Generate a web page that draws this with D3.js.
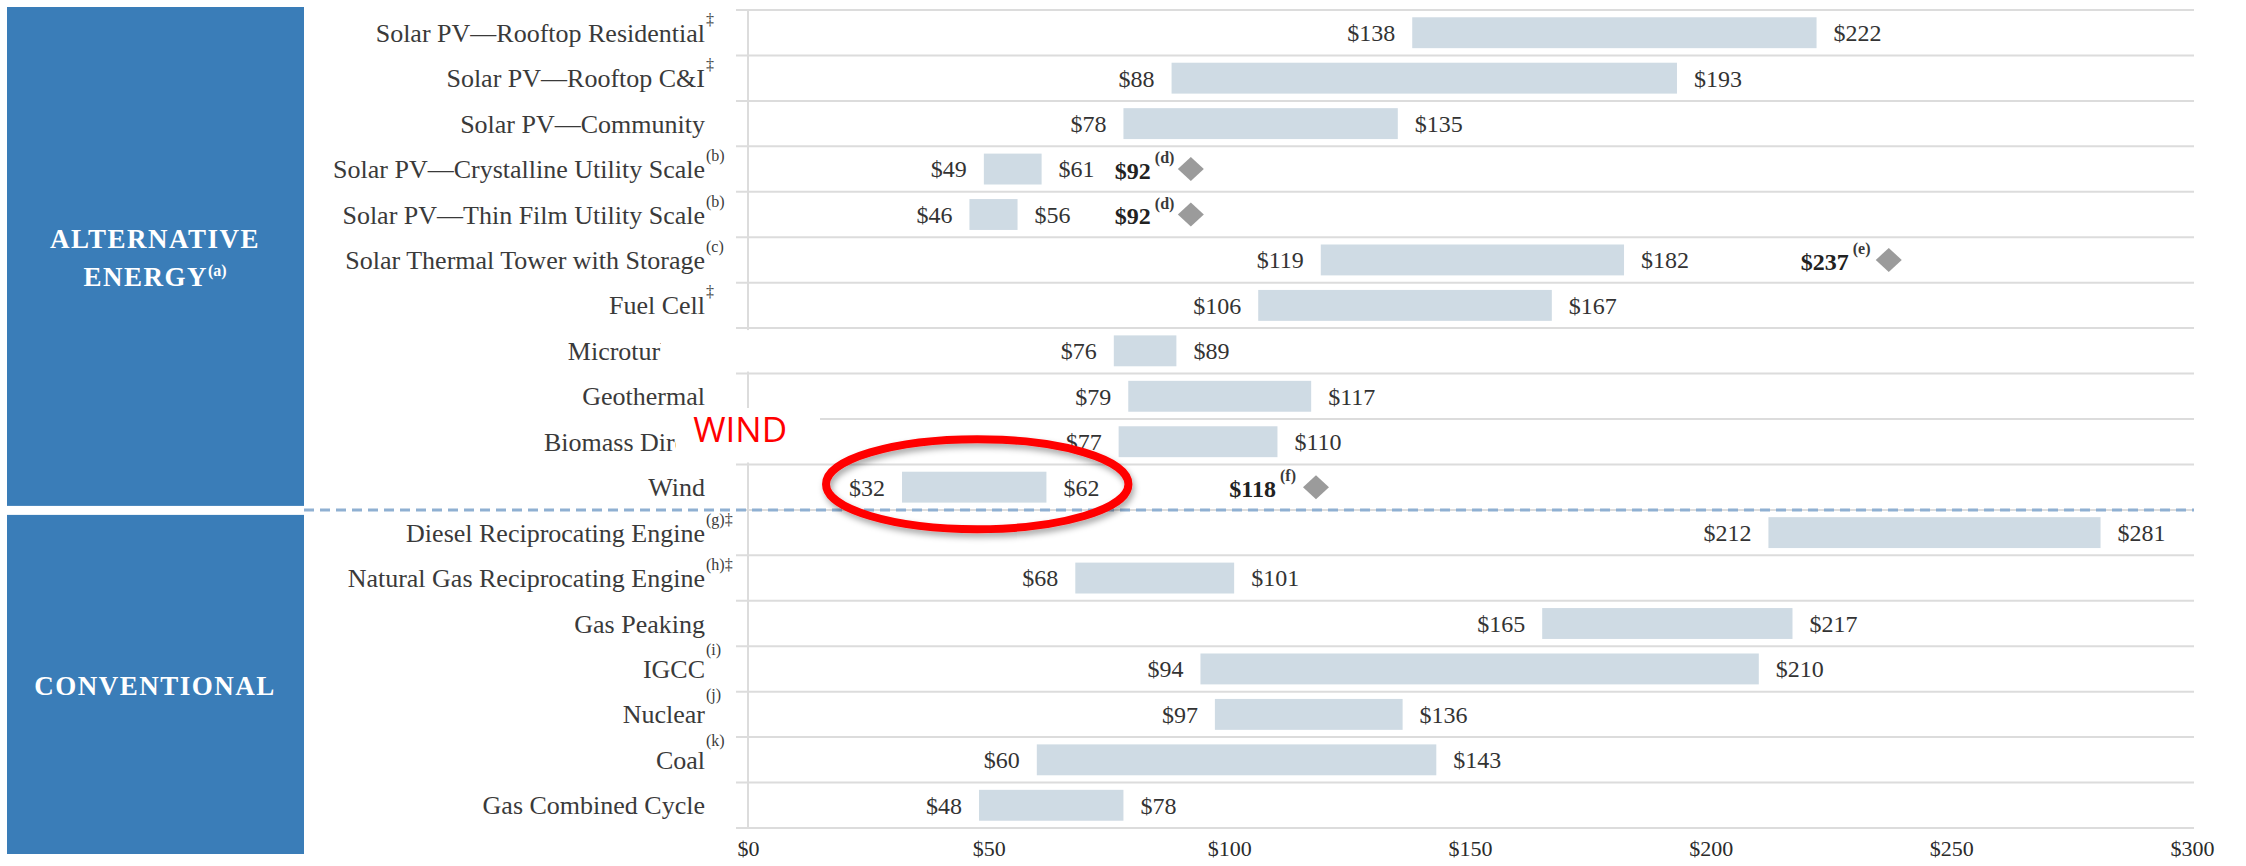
<!DOCTYPE html>
<html lang="en">
  <head>
    <meta charset="utf-8">
    <title>Levelized Cost of Energy Comparison</title>
    <style>
      body { margin: 0; background: #fff; }
      .bar { fill: #cfdbe4; }
      .grid { stroke: #dcdcdc; stroke-width: 2; }
      .cat { font-family: "Liberation Serif", serif; font-size: 26px; fill: #3a3a3a; }
      .sup { font-family: "Liberation Serif", serif; font-size: 16px; fill: #3a3a3a; }
      .val { font-family: "Liberation Serif", serif; font-size: 24px; fill: #333; }
      .panel-text { font-family: "Liberation Serif", serif; font-size: 27px; font-weight: bold; fill: #fff; letter-spacing: 1.5px; }
    </style>
    <script src="https://cdn.jsdelivr.net/npm/d3@7"></script>
  </head>
  <body>
  <svg width="2246" height="866"></svg>
  <script>
// data ($/MWh)
var categories = [
  "Solar PV\u2014Rooftop Residential", "Solar PV\u2014Rooftop C&I", "Solar PV\u2014Community",
  "Solar PV\u2014Crystalline Utility Scale", "Solar PV\u2014Thin Film Utility Scale",
  "Solar Thermal Tower with Storage", "Fuel Cell", "Microturbine", "Geothermal",
  "Biomass Direct", "Wind",
  "Diesel Reciprocating Engine", "Natural Gas Reciprocating Engine", "Gas Peaking",
  "IGCC", "Nuclear", "Coal", "Gas Combined Cycle"
];
var labelNotes = ["\u2021", "\u2021", "", "(b)", "(b)", "(c)", "\u2021", "", "", "", "",
  "(g)\u2021", "(h)\u2021", "", "(i)", "(j)", "(k)", ""];
var lowValues  = [138, 88, 78, 49, 46, 119, 106, 76, 79, 77, 32, 212, 68, 165, 94, 97, 60, 48];
var highValues = [222, 193, 135, 61, 56, 182, 167, 89, 117, 110, 62, 281, 101, 217, 210, 136, 143, 78];

var markerCategories = ["Solar PV\u2014Crystalline Utility Scale", "Solar PV\u2014Thin Film Utility Scale",
  "Solar Thermal Tower with Storage", "Wind"];
var markerValues = [92, 92, 237, 118];
var markerNotes = ["(d)", "(d)", "(e)", "(f)"];

var xTicks = [0, 50, 100, 150, 200, 250, 300];

var groupNames = ["ALTERNATIVE", "CONVENTIONAL"];

var svg = d3.select("svg"),
    W = +svg.attr("width"),
    H = +svg.attr("height");

var plotTop = 10, plotBottom = 828, plotLeft = 748, plotRight = 2192;
var labelX = 705;

var x = d3.scaleLinear().domain([0, 300]).range([plotLeft, plotRight]);
var y = d3.scaleBand().domain(categories).range([plotTop, plotBottom]).padding(0);
var step = y.step();
var barH = step * 0.68;
var mid = function(c) { return y(c) + step / 2; };

var defs = svg.append("defs");
var f = defs.append("filter").attr("id", "shadow").attr("x", "-10%").attr("y", "-20%")
    .attr("width", "130%").attr("height", "160%");
f.append("feDropShadow").attr("dx", 2).attr("dy", 4).attr("stdDeviation", 3)
    .attr("flood-color", "#000").attr("flood-opacity", 0.35);

//gridlines between rows
var bounds = categories.map(function(c) { return y(c); }).concat([plotBottom]);
svg.append("g").selectAll("line").data(bounds).enter().append("line")
    .attr("class", "grid")
    .attr("x1", plotLeft - 12).attr("x2", plotRight + 2)
    .attr("y1", function(d) { return d; }).attr("y2", function(d) { return d; });

svg.append("line").attr("class", "grid")
    .attr("x1", plotLeft).attr("x2", plotLeft).attr("y1", plotTop).attr("y2", plotBottom);

//side panels
var divY = y("Diesel Reciprocating Engine");
var panels = [
  {y0: plotTop - 3, y1: divY - 4},
  {y0: divY + 5, y1: H - 12}
];
svg.append("g").selectAll("rect").data(panels).enter().append("rect")
    .attr("x", 7).attr("width", 297)
    .attr("y", function(d) { return d.y0; })
    .attr("height", function(d) { return d.y1 - d.y0; })
    .attr("fill", "#3a7db8");

var p0 = (panels[0].y0 + panels[0].y1) / 2;
svg.append("text").attr("class", "panel-text").attr("x", 155).attr("y", p0 - 8)
    .attr("text-anchor", "middle").text(groupNames[0]);
var en = svg.append("text").attr("class", "panel-text").attr("x", 155).attr("y", p0 + 30)
    .attr("text-anchor", "middle");
en.append("tspan").text("ENERGY");
en.append("tspan").attr("dy", -10).style("font-size", "16px").style("letter-spacing", "0px").text("(a)");

var p1 = (panels[1].y0 + panels[1].y1) / 2;
svg.append("text").attr("class", "panel-text").attr("x", 155).attr("y", p1 + 4)
    .attr("text-anchor", "middle").attr("dominant-baseline", "middle").text(groupNames[1]);

//dashed divider
svg.append("line")
    .attr("x1", 304).attr("x2", plotRight + 2).attr("y1", divY).attr("y2", divY)
    .attr("stroke", "#8fb0d2").attr("stroke-width", 3).attr("stroke-dasharray", "10,6");

//category labels
var cats = svg.append("g");
cats.selectAll("text.cat").data(categories).enter().append("text")
    .attr("class", "cat")
    .attr("x", labelX).attr("y", function(d) { return mid(d); })
    .attr("dy", "0.35em").attr("text-anchor", "end")
    .text(function(d) { return d; });
cats.selectAll("text.sup").data(categories).enter().append("text")
    .attr("class", "sup")
    .attr("x", labelX + 1)
    .attr("y", function(d, i) { return mid(d) - (/\([ijk]\)/.test(labelNotes[i]) ? 14 : 8); })
    .text(function(d, i) { return labelNotes[i]; });

//bars
var rows = categories.map(function(c, i) { return {c: c, lo: lowValues[i], hi: highValues[i]}; });
svg.append("g").selectAll("rect").data(rows).enter().append("rect")
    .attr("class", "bar")
    .attr("x", function(d) { return x(d.lo); })
    .attr("width", function(d) { return x(d.hi) - x(d.lo); })
    .attr("y", function(d) { return mid(d.c) - barH / 2; })
    .attr("height", barH);

var vals = svg.append("g");
vals.selectAll("text.lo").data(rows).enter().append("text")
    .attr("class", "val").attr("text-anchor", "end")
    .attr("x", function(d) { return x(d.lo) - 17; })
    .attr("y", function(d) { return mid(d.c); }).attr("dy", "0.35em")
    .text(function(d) { return "$" + d.lo; });
vals.selectAll("text.hi").data(rows).enter().append("text")
    .attr("class", "val")
    .attr("x", function(d) { return x(d.hi) + 17; })
    .attr("y", function(d) { return mid(d.c); }).attr("dy", "0.35em")
    .text(function(d) { return "$" + d.hi; });

//diamond markers
var marks = markerCategories.map(function(c, i) { return {c: c, v: markerValues[i], n: markerNotes[i]}; });
var mg = svg.append("g");
mg.selectAll("path").data(marks).enter().append("path")
    .attr("d", "M0,-12L13,0L0,12L-13,0Z")
    .attr("fill", "#9b9b9b")
    .attr("transform", function(d) { return "translate(" + x(d.v) + "," + mid(d.c) + ")"; });
mg.selectAll("text.mv").data(marks).enter().append("text")
    .attr("class", "val").attr("text-anchor", "end")
    .style("font-weight", "bold").style("fill", "#222")
    .attr("x", function(d) { return x(d.v) - 40; })
    .attr("y", function(d) { return mid(d.c); }).attr("dy", "0.4em")
    .text(function(d) { return "$" + d.v; });
mg.selectAll("text.mn").data(marks).enter().append("text")
    .attr("class", "sup").style("font-weight", "bold")
    .attr("x", function(d) { return x(d.v) - 36; })
    .attr("y", function(d) { return mid(d.c) - 6; })
    .text(function(d) { return d.n; });

//x axis
var xAxis = svg.append("g")
    .attr("transform", "translate(0," + plotBottom + ")")
    .call(d3.axisBottom(x).tickValues(xTicks).tickSize(0).tickPadding(12)
      .tickFormat(function(d) { return "$" + d; }));
xAxis.select(".domain").remove();
xAxis.selectAll("text")
    .style("font-family", "Liberation Serif, serif").style("font-size", "22px").style("fill", "#2b2b2b");

//pasted annotation covers part of two labels
var micro = "Microturbine", bio = "Biomass Direct";
svg.append("rect").attr("fill", "#fff")
    .attr("x", 661).attr("y", y(micro) + 2).attr("width", 142).attr("height", step - 4);
svg.append("rect").attr("fill", "#fff")
    .attr("x", 676).attr("y", y(bio) - 11).attr("width", 144).attr("height", step + 9);

//WIND annotation
var wi = categories.indexOf("Wind");
var wcx = x((lowValues[wi] + highValues[wi]) / 2) + 3,
    wcy = mid("Wind") - 3;
svg.append("ellipse")
    .attr("cx", wcx).attr("cy", wcy)
    .attr("rx", (x(highValues[wi]) - x(lowValues[wi])) / 2 + 79).attr("ry", 45)
    .attr("fill", "none").attr("stroke", "#ff0000").attr("stroke-width", 8)
    .attr("filter", "url(#shadow)");
svg.append("text")
    .attr("x", wcx - 284).attr("y", wcy - 42)
    .style("font-family", "Open Sans, sans-serif").style("font-size", "35px").style("fill", "#ff0000")
    .text("WIND");
  </script>
  </body>
</html>
